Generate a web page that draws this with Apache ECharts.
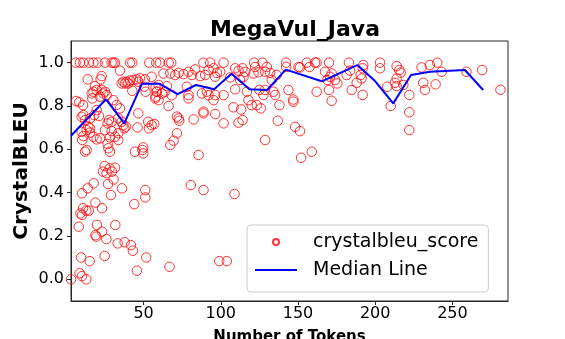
<!DOCTYPE html>
<html>
<head>
<meta charset="utf-8">
<script src="https://cdn.jsdelivr.net/npm/echarts@6/dist/echarts.min.js"></script>
<style>
  html, body { margin: 0; padding: 0; background: #fff; }
  #chart { width: 565px; height: 339px; }
</style>
</head>
<body>
<div id="chart"></div>
<script>
  // number of tokens per sample (x) and its CrystalBLEU score (y)
  const tokens = [
    6, 8.8, 11, 14.7, 17.5, 20.3, 25, 29.3, 30.5, 31.5, 41.2, 42.7, 53.7, 58.2, 60.6, 66.2, 67.9, 88.8, 93.1, 101.8,
    121.6, 127, 142.3, 155.7, 161, 162.1, 170.1, 183, 203.1, 240.2,
    34.7, 22.9, 22.2, 13.8, 36.9, 39, 41.2, 43.3, 45.5, 46.6, 47.6, 35.8, 38, 40.1, 42.7, 50.9, 55.2, 50.4, 51.3, 57.8, 58.4, 57.8,
    18.5, 19.6, 17.5, 22.9, 25, 23.9, 21.8, 26.1, 16.4, 16.8,
    6.3, 8.4, 10.8, 30.4, 32.6, 34.7, 19.6, 21.1,
    9.9, 12.1, 11, 15.3, 18.1, 46.6, 27.6, 29.3, 26.7, 33.6, 35.8, 36.9,
    53, 55.2, 56.9, 53.5, 46.1, 25, 29.3, 33.6, 14.2, 15.3, 13.1, 15.3, 9.9, 11, 10.3,
    17.5, 19.6, 21.8, 28.2, 31.5, 33.6, 37.5, 38.6, 26.7, 27.2, 28.2, 13.1, 12.1, 44.4, 49.2, 49.8, 49.8,
    24.8, 28, 31.5, 23.7, 29.5, 26, 30.6, 27, 17.7,
    10.1, 13.8, 28.9, 36, 51.1, 51.1, 44, 18.8, 23.1, 10.8, 9.1, 10.1, 12.9, 14.5, 8, 19.8, 23.1, 18.8, 19.4, 25.9,
    31.7, 33.2, 37.7, 41.8, 43.1, 9.5, 15.1, 24.8, 51.7, 8.6, 10.1, 12.9, 3, 45.7, 66.8, 80.6, 88.8, 108.9, 99, 103.9,
    62.9, 67.3, 70.5, 72.7, 75.9, 79.1, 81.3, 83.4, 86.7, 89.9, 92.1, 95.3, 97.5, 99.6, 96.4, 106.1, 109.3, 111.5, 114.1, 115.8, 114.7, 112.5,
    59.7, 58.6, 61.9, 57.6, 59.7, 64, 68.3, 65.1, 78, 79.1, 79.1,
    87.8, 91, 92.1, 96.4, 95.3, 101.8, 109.3, 116.9, 117.9,
    66.2, 108.2, 113.2, 71.6, 72.7, 73.1, 88.8, 88.8, 96.4, 82.4, 101.8, 111.5, 114.1, 71.6, 69.4, 67.3, 85.6,
    122.2, 129.8, 121.2, 124.4, 128.7, 131.9, 136.2, 142.3, 150.3, 151.3, 157.4, 167.5, 171.8, 170.7, 169, 174, 175.5, 170.1, 171.8, 162.1,
    183.7, 181.5, 184.8, 188, 192.3, 191.9, 190.6, 191.2, 191.9, 203.1, 213.9, 215.6, 216.5, 213.9, 212.8, 213.9, 207.8, 218.2, 210,
    222.1, 222.1, 222.1, 230, 235.4, 243, 231.1, 232.2, 239.1, 259.1, 269.3, 281.1, 143.8, 138, 136.9, 128.7, 147, 147, 148.1, 151.3,
    152, 158.9, 133, 134.1, 135.2, 127.6, 123.3, 125.9, 120, 125, 128.7
  ];
  const scores = [
    1, 1, 1, 1, 1, 1, 1, 1, 1, 1, 1, 1, 1, 1, 1, 1, 1, 1, 1, 1,
    1, 1, 1, 1, 1, 1, 1, 1, 1, 1,
    0.963, 0.938, 0.923, 0.923, 0.912, 0.912, 0.917, 0.92, 0.923, 0.912, 0.928, 0.904, 0.904, 0.904, 0.87, 0.923, 0.935, 0.889, 0.866, 0.886, 0.866, 0.843,
    0.892, 0.874, 0.866, 0.874, 0.866, 0.858, 0.843, 0.85, 0.858, 0.835,
    0.823, 0.817, 0.804, 0.827, 0.805, 0.789, 0.781, 0.754,
    0.75, 0.735, 0.758, 0.743, 0.758, 0.766, 0.735, 0.727, 0.72, 0.743, 0.727, 0.712,
    0.727, 0.712, 0.717, 0.697, 0.701, 0.689, 0.684, 0.674, 0.705, 0.697, 0.689, 0.677, 0.681, 0.661, 0.643,
    0.658, 0.646, 0.651, 0.655, 0.658, 0.643, 0.697, 0.705, 0.625, 0.605, 0.589, 0.597, 0.589, 0.589, 0.597, 0.609, 0.581,
    0.523, 0.512, 0.515, 0.497, 0.497, 0.49, 0.461, 0.44, 0.443,
    0.397, 0.42, 0.389, 0.42, 0.412, 0.378, 0.347, 0.354, 0.328, 0.328, 0.304, 0.297, 0.317, 0.317, 0.243, 0.251, 0.22, 0.204, 0.197, 0.186,
    0.251, 0.166, 0.171, 0.158, 0.132, 0.101, 0.084, 0.108, 0.101, 0.028, 0.015, 0, 0, 0.04, 0.058, 0.435, 0.412, 0.394, 0.084, 0.084,
    0.95, 0.95, 0.943, 0.953, 0.947, 0.958, 0.943, 0.969, 0.938, 0.943, 0.966, 0.974, 0.953, 0.958, 0.935, 0.932, 0.974, 0.963, 0.974, 0.958, 0.935, 0.92,
    0.897, 0.866, 0.858, 0.835, 0.827, 0.866, 0.85, 0.892, 0.889, 0.85, 0.835,
    0.858, 0.866, 0.85, 0.85, 0.827, 0.85, 0.877, 0.866, 0.827,
    0.8, 0.794, 0.784, 0.751, 0.743, 0.732, 0.774, 0.766, 0.763, 0.738, 0.72, 0.723, 0.735, 0.674, 0.64, 0.62, 0.574,
    0.98, 0.98, 0.95, 0.955, 0.958, 0.953, 0.943, 0.98, 0.98, 0.978, 0.98, 0.958, 0.95, 0.935, 0.92, 0.92, 0.904, 0.874, 0.824, 0.866,
    0.963, 0.943, 0.874, 0.907, 0.989, 0.974, 0.943, 0.927, 0.851, 0.974, 0.984, 0.966, 0.954, 0.927, 0.907, 0.892, 0.889, 0.897, 0.8,
    0.851, 0.771, 0.689, 0.978, 0.989, 0.958, 0.907, 0.874, 0.9, 0.958, 0.966, 0.875, 0.874, 0.804, 0.732, 0.643, 0.83, 0.82, 0.704, 0.684,
    0.561, 0.589, 0.92, 0.866, 0.851, 0.851, 0.804, 0.789, 0.804, 0.874, 0.874
  ];

  // median score per token bin
  const medianTokens = [3, 25.7, 37.5, 49, 60.2, 72, 83.9, 95.7, 106.9, 118.6, 130, 142.1, 165.4, 188.4, 199.9, 211.7, 223.2, 235.5, 258.1, 269.9];
  const medianScores = [0.663, 0.831, 0.72, 0.903, 0.903, 0.855, 0.897, 0.877, 0.949, 0.877, 0.874, 0.968, 0.914, 0.989, 0.915, 0.812, 0.943, 0.958, 0.966, 0.874];

  const xTicks = [50, 100, 150, 200, 250];
  const yTicks = [0, 0.2, 0.4, 0.6, 0.8, 1.0];

  const font = "DejaVu Sans";
  const spine = "#262626";

  const chart = echarts.init(document.getElementById("chart"), null, { renderer: "canvas" });

  chart.setOption({
    animation: false,
    textStyle: { fontFamily: font },
    title: {
      text: "MegaVul_Java",
      left: 290,
      top: 14,
      textAlign: "center",
      textStyle: { fontFamily: font, fontSize: 22, fontWeight: "bold", color: "#000" }
    },
    grid: {
      left: 71,
      right: 57,
      top: 41,
      bottom: 38,
      outerBoundsMode: "none",
      containLabel: false,
      show: true,
      borderColor: spine,
      borderWidth: 1,
      backgroundColor: "transparent"
    },
    legend: {
      orient: "vertical",
      left: 247,
      top: 225,
      padding: [6, 10, 11, 8],
      itemGap: 6,
      itemWidth: 42,
      itemHeight: 6,
      selectedMode: false,
      backgroundColor: "rgba(255,255,255,0.8)",
      borderColor: "#cccccc",
      borderWidth: 1,
      borderRadius: 4,
      textStyle: { fontFamily: font, fontSize: 19, lineHeight: 22, color: "#000", padding: [0, 0, 0, 11] },
      data: [
        { name: "crystalbleu_score", icon: "circle" },
        // 42x2 bar, drawn as the line sample
        { name: "Median Line", icon: "path://M0,0H42V2H0Z" }
      ]
    },
    xAxis: {
      type: "value",
      min: 3,
      max: 286,
      name: "Number of Tokens",
      nameLocation: "middle",
      nameGap: 29,
      nameTextStyle: { fontFamily: font, fontSize: 15, fontWeight: "bold", color: "#000" },
      splitLine: { show: false },
      axisLine: { onZero: false, lineStyle: { color: spine, width: 1 } },
      axisTick: { show: true, length: 4, customValues: xTicks, lineStyle: { color: spine } },
      axisLabel: { customValues: xTicks, margin: 5, fontSize: 16, color: "#000", fontFamily: font }
    },
    yAxis: {
      type: "value",
      min: -0.1,
      max: 1.1,
      name: "CrystalBLEU",
      nameLocation: "middle",
      nameGap: 39,
      nameMoveOverlap: false,
      nameTextStyle: { fontFamily: font, fontSize: 20, fontWeight: "bold", color: "#000" },
      splitLine: { show: false },
      axisLine: { show: true, onZero: false, lineStyle: { color: spine, width: 1 } },
      axisTick: { show: true, length: 4, customValues: yTicks, lineStyle: { color: spine } },
      axisLabel: {
        customValues: yTicks,
        margin: 7,
        fontSize: 16,
        color: "#000",
        fontFamily: font,
        formatter: v => v.toFixed(1)
      }
    },
    series: [
      {
        name: "crystalbleu_score",
        type: "scatter",
        symbol: "circle",
        symbolSize: 9.5,
        itemStyle: { color: "rgba(255,0,0,0)", borderColor: "#ff0000", borderWidth: 1 },
        data: tokens.map((t, i) => [t, scores[i]]),
        z: 2
      },
      {
        name: "Median Line",
        type: "line",
        symbol: "none",
        lineStyle: { color: "#0000ff", width: 2 },
        itemStyle: { color: "#0000ff" },
        data: medianTokens.map((t, i) => [t, medianScores[i]]),
        z: 3
      }
    ]
  });
</script>
</body>
</html>
